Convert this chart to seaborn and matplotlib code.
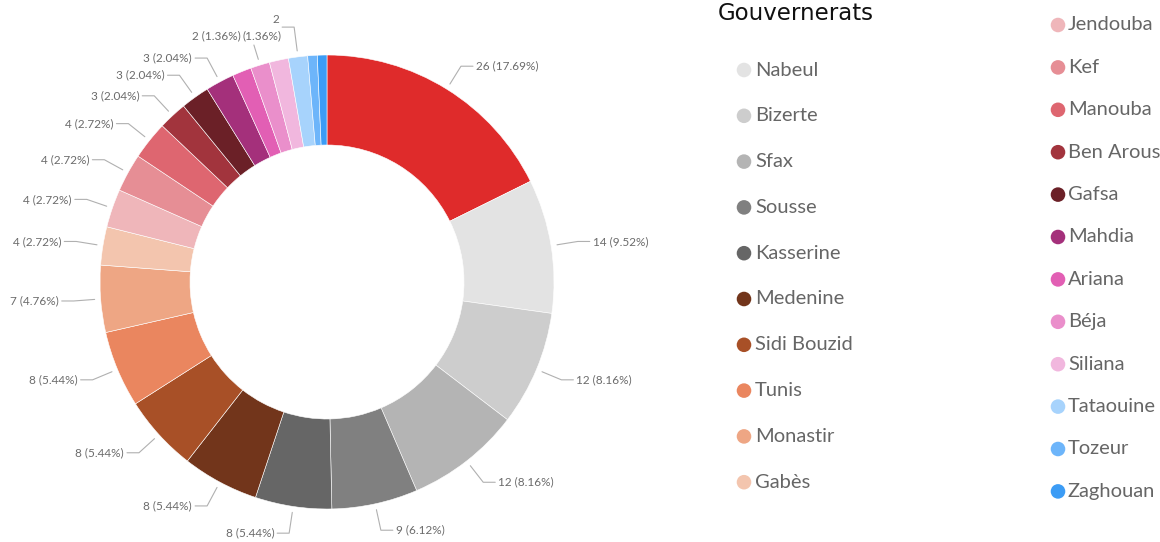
import numpy as np
import matplotlib.pyplot as plt
import seaborn as sns

# slices in drawing order, clockwise from 12 o'clock
gouvernorats = ['Kairouan', 'Nabeul', 'Bizerte', 'Sfax', 'Sousse', 'Kasserine',
                'Medenine', 'Sidi Bouzid', 'Tunis', 'Monastir', 'Gabès',
                'Jendouba', 'Kef', 'Manouba', 'Ben Arous', 'Gafsa', 'Mahdia',
                'Ariana', 'Béja', 'Siliana', 'Tataouine', 'Tozeur', 'Zaghouan']
counts = [26, 14, 12, 12, 9, 8, 8, 8, 8, 7, 4, 4, 4, 4, 3, 3, 3, 2, 2, 2, 2, 1, 1]
colors = ['#df2b2b', '#e3e3e3', '#cdcdcd', '#b4b4b4', '#808080', '#666666',
          '#72351b', '#a85027', '#ea865f', '#eea684', '#f3c5ae',
          '#efb6ba', '#e68e95', '#de6670', '#a2343d', '#6b2027', '#a4307b',
          '#e25fb4', '#ea8fcb', '#f1b7de', '#a7d3fc', '#6db5fa', '#3c9cf5']

# legend as shown in the report (first slice is scrolled out of view)
legend_left = gouvernorats[1:11]
legend_right = gouvernorats[11:]

# labels Power BI kept in the crowded top area
top_labels = {'Ariana': '2 (1.36%)', 'Béja': '(1.36%)', 'Tataouine': '2'}

sns.set_theme(style='white')
plt.rcParams['font.family'] = ['Lato', 'DejaVu Sans']

fig = plt.figure(figsize=(11.6, 5.42), dpi=100)
ax = fig.add_axes([0, 0, 1, 1])

cx, cy, r_out, r_in = 327, 282, 227, 137
total = sum(counts)

# y axis is flipped below, so counterclock=True draws clockwise on screen
ax.pie(counts, colors=colors, center=(cx, cy), radius=r_out,
       startangle=-90, counterclock=True,
       wedgeprops=dict(width=r_out - r_in, edgecolor='white', linewidth=0.4))

ax.set_xlim(0, 1160)
ax.set_ylim(542, 0)
ax.set_aspect('equal')
ax.axis('off')

# data labels with leader lines
cum = np.cumsum(counts)
mids = (cum - np.array(counts) / 2) / total * 360
lab_kw = dict(fontsize=8.5, color='#6b6b6b', va='center')
line_kw = dict(color='#b0b0b0', lw=0.8)
beja_pos = None
for name, v, ang in zip(gouvernorats, counts, mids):
    if v >= 3:
        txt = f'{v} ({v / total * 100:.2f}%)'
    elif name in top_labels:
        txt = top_labels[name]
    else:
        continue
    phi = np.radians(ang)
    ux, uy = np.sin(phi), -np.cos(phi)
    x0, y0 = cx + 233 * ux, cy + 233 * uy
    if name == 'Ariana':
        continue
    if name == 'Béja':
        x1, y1 = cx + 248 * ux, cy + 248 * uy
        ax.plot([x0, x1], [y0, y1], **line_kw)
        beja_pos = (x1 - 11, y1 - 9)
        ax.text(beja_pos[0], beja_pos[1], txt, ha='left', **lab_kw)
        continue
    r_elbow = 257 if name == 'Tataouine' else 254
    x1, y1 = cx + r_elbow * ux, cy + r_elbow * uy
    side = 1 if ux >= 0 else -1
    x2 = x1 + 12 * side
    ax.plot([x0, x1, x2], [y0, y1, y1], **line_kw)
    ty = y1 - 8 if name == 'Tataouine' else y1
    ax.text(x2 + 3 * side, ty, txt, ha='left' if side > 0 else 'right', **lab_kw)

if beja_pos is not None:
    ax.text(beja_pos[0] - 2, beja_pos[1], top_labels['Ariana'], ha='right', **lab_kw)

# legend
ax.text(718, 14, 'Gouvernerats', fontsize=16.5, color='#111111',
        family='DejaVu Sans', va='center', ha='left')

col_map = dict(zip(gouvernorats, colors))
for i, name in enumerate(legend_left):
    y = 70 + i * 45.8
    ax.scatter(744, y, s=110, color=col_map[name], edgecolor='none')
    ax.text(755, y, name, fontsize=14.5, color='#666666', va='center', ha='left')
for i, name in enumerate(legend_right):
    y = 25 + i * 42.4
    ax.scatter(1058, y, s=110, color=col_map[name], edgecolor='none')
    ax.text(1068, y, name, fontsize=14.5, color='#666666', va='center', ha='left')

fig.savefig('out.png', dpi=100)
